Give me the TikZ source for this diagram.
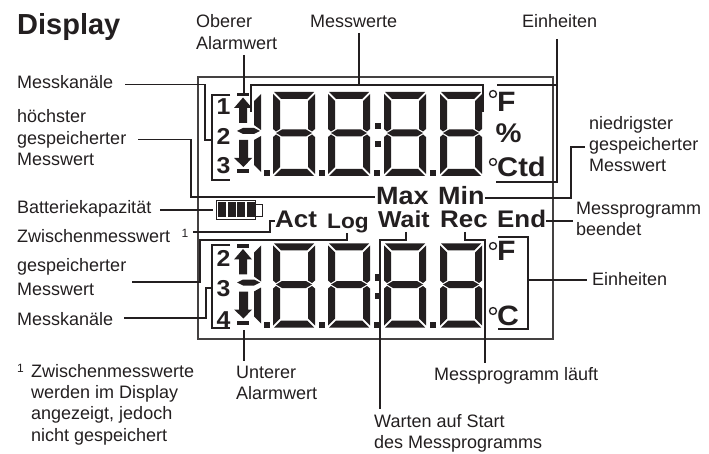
\documentclass[tikz,border=0pt]{standalone}
\usepackage{fontspec}
\setmainfont{Liberation Sans}
\definecolor{ink}{HTML}{231F20}
\newfontfamily\widebold[FakeStretch=1.08]{Liberation Sans Bold}
\newfontfamily\plainbold{Liberation Sans Bold}
\tikzset{
  lead/.style={draw=ink,line width=1.7pt},
  framebox/.style={draw=ink!85,line width=1.3pt},
  seg/.style={fill=ink,draw=none},
  lbl/.style={anchor=base west,inner sep=0pt,text=ink,font=\fontsize{18}{21.5}\selectfont},
  bold/.style={anchor=base west,inner sep=0pt,text=ink,font=\fontsize{#1}{#1}\widebold},
  degr/.style={draw=ink,line width=1.3pt,fill=white}
}
% seven-segment digit, top left corner at the scope origin
\newcommand{\lcddigit}[2]{%
\begin{scope}[shift={(#1,#2)}]
\fill[seg] (1,0)--(41,0)--(34,7)--(8,7)--cycle;
\fill[seg] (0,2)--(7,9)--(7,37)--(3,39.5)--(0,37)--cycle;
\fill[seg] (42,2)--(35,9)--(35,37)--(39,39.5)--(42,37)--cycle;
\fill[seg] (3,41)--(9,37.5)--(33,37.5)--(39,41)--(33,44.5)--(9,44.5)--cycle;
\fill[seg] (0,45)--(3,42.5)--(7,45)--(7,75)--(0,82)--cycle;
\fill[seg] (42,45)--(39,42.5)--(35,45)--(35,75)--(42,82)--cycle;
\fill[seg] (1,84)--(41,84)--(34,77)--(8,77)--cycle;
\end{scope}}
% leading half digit with up arrow, hexagon, down arrow and bars
\newcommand{\lcdside}[2]{%
\begin{scope}[shift={(0,#1)}]
\fill[seg] (261,2)--(254,9)--(254,33)--(261,38)--cycle;
\fill[seg] (261,44)--(254,48)--(254,73)--(261,80)--cycle;
\fill[seg] (237,1)--(249,1)--(249,4.5)--(237,4.5)--cycle;
\fill[seg] (243,5.5)--(252,16)--(247,16)--(247,31)--(239,31)--(239,16)--(234,16)--cycle;
\fill[seg] (237,39)--(243,36)--(254,36)--(260,39)--(254,42)--(243,42)--cycle;
\fill[seg] (239,48)--(248,48)--(248,#2)--(252,#2)--(243.5,75)--(234,#2)--(239,#2)--cycle;
\fill[seg] (237,77.5)--(249,77.5)--(249,81)--(237,81)--cycle;
\end{scope}}
\begin{document}
\begin{tikzpicture}[x=1pt,y=-1pt]
\useasboundingbox (0,0) rectangle (709,454);
% frame
\draw[framebox] (198,77) rectangle (553,339);
% digits
\foreach \dx in {273,328,384,440}{\lcddigit{\dx}{92}\lcddigit{\dx}{243.5}}
\lcdside{92}{66}
\lcdside{243.5}{66}
\foreach \dy in {92,243.5}{
  \foreach \cx in {263.5,319,373.5,430}{\fill[seg] (\cx,\dy+78) rectangle ++(6,6);}
  \fill[seg] (375,\dy+31) rectangle ++(6,6);
  \fill[seg] (375,\dy+49) rectangle ++(6,6);
}
% battery
\draw[draw=ink,line width=0.8pt,fill=white] (255,204) rectangle (262,216);
\draw[draw=ink,line width=0.8pt,fill=white] (216,200) rectangle (255,219);
\foreach \bx in {218,227.5,237,246.5}{\fill[seg] (\bx,202) rectangle ++(8,15);}
% degree signs
\foreach \p in {94,162,246,311}{\draw[degr] (493,\p) circle[radius=3.5];}
% channel numbers
\foreach \t/\b/\n in {1/115/a,2/145/b,3/174/c,2/267/d,3/296/e,4/327/f}{
  \node[bold=23,anchor=base] (ch\n) at (223.5,\b+0) {\t};}
% unit symbols
\node[bold=28] (uF) at (497,112) {F};
\node[bold=27,anchor=base] (uP) at (508.5,143) {\%};
\node[bold=27] (uC) at (497,177) {Ctd};
\node[bold=28] (uFb) at (497,261) {F};
\node[bold=28] (uCb) at (497,325) {C};
% bold mode words
\node[bold=25] (mx) at (376,205) {Max};
\node[bold=25] (mn) at (438,205) {Min};
\node[bold=24] (act) at (275,228) {Act};
\node[bold=21] (log) at (327,229) {Log};
\node[bold=23] (wait) at (378,228) {Wait};
\node[bold=24] (rec) at (440,228) {Rec};
\node[bold=24] (en) at (497,228) {End};
% labels
\node[bold=29,font=\fontsize{29}{29}\plainbold] (disp) at (17,35) {Display};
\node[lbl] (l1) at (196,28) {Oberer};
\node[lbl] (l2) at (196,50) {Alarmwert};
\node[lbl] (l3) at (310,28) {Messwerte};
\node[lbl] (l4) at (522,28) {Einheiten};
\node[lbl] (l5) at (17,89) {Messkanäle};
\node[lbl] (l6) at (17,123) {höchster};
\node[lbl] (l7) at (17,145) {gespeicherter};
\node[lbl] (l8) at (17,166) {Messwert};
\node[lbl] (l9) at (17,214) {Batteriekapazität};
\node[lbl] (l10) at (17,243) {Zwischenmesswert};
\node[lbl,font=\fontsize{12}{14}\selectfont] (l11) at (181.5,238) {1};
\node[lbl] (l12) at (17,272) {gespeicherter};
\node[lbl] (l13) at (17,295) {Messwert};
\node[lbl] (l14) at (17,325) {Messkanäle};
\node[lbl,font=\fontsize{12}{14}\selectfont] (l15) at (17,372) {1};
\node[lbl] (l16) at (31,377) {Zwischenmesswerte};
\node[lbl] (l17) at (31,398) {werden im Display};
\node[lbl] (l18) at (31,419) {angezeigt, jedoch};
\node[lbl] (l19) at (31,441) {nicht gespeichert};
\node[lbl] (l20) at (236,378) {Unterer};
\node[lbl] (l21) at (236,399) {Alarmwert};
\node[lbl] (l22) at (434,380) {Messprogramm läuft};
\node[lbl] (l23) at (374,427) {Warten auf Start};
\node[lbl] (l24) at (374,448) {des Messprogramms};
\node[lbl] (l25) at (589,130) {niedrigster};
\node[lbl] (l26) at (589,151) {gespeicherter};
\node[lbl] (l27) at (589,172) {Messwert};
\node[lbl] (l28) at (576,215) {Messprogramm};
\node[lbl] (l29) at (576,236) {beendet};
\node[lbl] (l30) at (592,286) {Einheiten};
% connector ends
\coordinate (oben) at (244,55);
\coordinate (obenE) at (244,93);
\coordinate (mw) at (359,33);
\coordinate (mwE) at (359,85);
\coordinate (einh) at (557,39);
\coordinate (kanal) at (125,84.5);
\coordinate (klam) at (212,140);
\coordinate (hoch) at (138,139.5);
\coordinate (maxE) at (375,197);
\coordinate (batt) at (160,210);
\coordinate (battE) at (213,210);
\coordinate (zw) at (193,232);
\coordinate (gesp) at (132,282);
\coordinate (logE) at (347,233);
\coordinate (kanalb) at (124,318);
\coordinate (klamb) at (212,288);
\coordinate (unt) at (244,361);
\coordinate (untE) at (244,330);
\coordinate (waitE) at (406,232);
\coordinate (warten) at (380,409);
\coordinate (recE) at (465,232);
\coordinate (lauft) at (485,363);
\coordinate (niedrig) at (585,147);
\coordinate (endeL) at (573,221);
\coordinate (einhb) at (587,280);
% connectors
\draw[lead] (oben) -- (obenE);
\draw[lead] (mw) -- (mwE);
\draw[lead] (251,112) -- (251,85) -- (483,85) -- (483,112);
\draw[lead] (497,85) -- (557,85);
\draw[lead] (einh) -- (557,182) -- (496,182);
\draw[lead] (kanal) -- (205,84.5) -- (205,140) -- (klam);
\draw[lead] (230,95) -- (212,95) -- (212,180) -- (230,180);
\draw[lead] (hoch) -- (191,139.5) -- (191,197) -- (maxE);
\draw[lead] (batt) -- (battE);
\draw[lead] (zw) -- (270,232) -- (270,221) -- (act.west |- 0,221);
\draw[lead] (gesp) -- (200,282) -- (200,240) -- (347,240) -- (logE);
\draw[lead] (kanalb) -- (206,318) -- (206,288) -- (klamb);
\draw[lead] (230,245) -- (212,245) -- (212,328) -- (230,328);
\draw[lead] (untE) -- (unt);
\draw[lead] (waitE) -- (406,240) -- (380,240) -- (warten);
\draw[lead] (recE) -- (465,240) -- (485,240) -- (lauft);
\draw[lead] (mn.east |- 0,198) -- (571,198) -- (571,147) -- (niedrig);
\draw[lead] (en.east |- 0,221) -- (endeL);
\draw[lead] (498,237) -- (528,237) -- (528,329) -- (498,329);
\draw[lead] (528,280) -- (einhb);
\end{tikzpicture}
\end{document}
